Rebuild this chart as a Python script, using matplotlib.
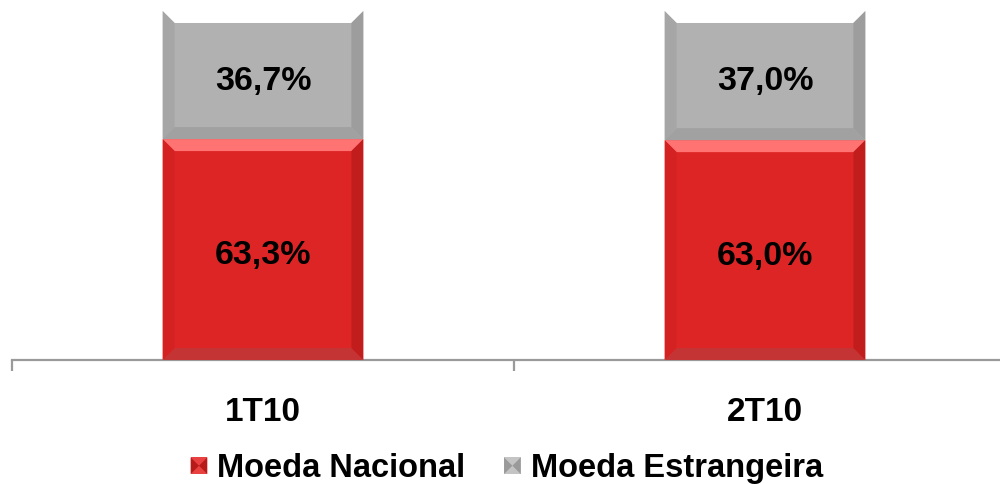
import numpy as np
import matplotlib
matplotlib.use("Agg")
import matplotlib.pyplot as plt
import matplotlib.transforms as mtransforms
from matplotlib.patches import Polygon, Rectangle
from matplotlib.legend_handler import HandlerBase

plt.rcParams['font.family'] = ['Liberation Sans', 'DejaVu Sans']

categories = ['1T10', '2T10']
nacional = [63.3, 63.0]
estrangeira = [36.7, 37.0]
series_names = ['Moeda Nacional', 'Moeda Estrangeira']

# face, top, bottom, left, right
red_cols = ['#DE2526', '#FF7373', '#C43434', '#D42222', '#C21D1D']
gray_cols = ['#B1B1B1', '#FFFFFF', '#A1A1A1', '#A6A6A6', '#9D9D9D']

W, H = 1000, 485
fig = plt.figure(figsize=(W / 100, H / 100), dpi=100)
ax = fig.add_axes([12 / W, (H - 361) / H, 1004 / W, 349 / H])

x = np.arange(len(categories))
b1 = ax.bar(x, nacional, width=0.4, color=red_cols[0], zorder=2)
b2 = ax.bar(x, estrangeira, width=0.4, bottom=nacional, color=gray_cols[0], zorder=2)

ax.set_xlim(-0.5, 1.5)
ax.set_ylim(0, 100)

# bevel edges, size in pixels converted to data units
bev = 12
dx = bev * 2.0 / 1004
dy = bev * 100.0 / 349


def bevel(rect, cols):
    x0, y0 = rect.get_x(), rect.get_y()
    x1, y1 = x0 + rect.get_width(), y0 + rect.get_height()
    top = [(x0, y1), (x1, y1), (x1 - dx, y1 - dy), (x0 + dx, y1 - dy)]
    bot = [(x0, y0), (x1, y0), (x1 - dx, y0 + dy), (x0 + dx, y0 + dy)]
    left = [(x0, y0), (x0 + dx, y0 + dy), (x0 + dx, y1 - dy), (x0, y1)]
    right = [(x1, y0), (x1 - dx, y0 + dy), (x1 - dx, y1 - dy), (x1, y1)]
    for pts, c in zip([top, bot, left, right], cols[1:]):
        ax.add_patch(Polygon(pts, closed=True, facecolor=c, edgecolor='none', zorder=3))


for r in b1:
    bevel(r, red_cols)
for r in b2:
    bevel(r, gray_cols)

lbl_tr = mtransforms.offset_copy(ax.transData, fig=fig, x=0, y=-5, units='dots')
for i in range(len(categories)):
    ax.text(x[i], nacional[i] / 2, f"{nacional[i]:.1f}%".replace('.', ','), transform=lbl_tr,
            ha='center', va='center', fontsize=24.5, fontweight='bold', zorder=4)
    ax.text(x[i], nacional[i] + estrangeira[i] / 2, f"{estrangeira[i]:.1f}%".replace('.', ','),
            transform=lbl_tr, ha='center', va='center', fontsize=24.5, fontweight='bold', zorder=4)

for s in ['top', 'right', 'left']:
    ax.spines[s].set_visible(False)
ax.spines['bottom'].set_color('#9A9A9A')
ax.spines['bottom'].set_linewidth(1.6)
ax.set_yticks([])
ax.set_xticks([-0.5, 0.5, 1.5])
ax.set_xticklabels([])
ax.tick_params(axis='x', which='major', direction='out', length=8, width=1.6, color='#9A9A9A')
ax.set_xticks(x, minor=True)
ax.set_xticklabels(categories, minor=True, fontsize=24, fontweight='bold')
ax.tick_params(axis='x', which='minor', length=0, pad=26)


class BevelHandler(HandlerBase):
    def __init__(self, cols):
        super().__init__()
        self.cols = cols

    def create_artists(self, legend, orig_handle, xd, yd, width, height, fontsize, trans):
        s = 12
        x0, y0 = -xd + width - s, -yd + (height - s) / 2 - 1
        cx, cy = x0 + s / 2, y0 + s / 2
        c = self.cols
        arts = [Rectangle((x0, y0), s, s, facecolor=c[1], edgecolor='none', transform=trans),
                Polygon([(x0, y0), (cx, cy), (x0, y0 + s)], facecolor=c[3], edgecolor='none', transform=trans),
                Polygon([(x0 + s, y0), (cx, cy), (x0 + s, y0 + s)], facecolor=c[4], edgecolor='none', transform=trans)]
        return arts


leg = fig.legend([b1, b2], series_names, loc='lower center', bbox_to_anchor=(0.506, -0.058),
                 ncol=2, frameon=False, handlelength=0.55, handleheight=0.7, handletextpad=0.3,
                 columnspacing=1.15, prop={'size': 23.5, 'weight': 'bold'},
                 handler_map={b1: BevelHandler(['#DE2526', '#E8413F', '#DE2526', '#B81A1A', '#B81A1A']),
                              b2: BevelHandler(['#B1B1B1', '#C4C4C4', '#B1B1B1', '#9A9A9A', '#9A9A9A'])})

fig.savefig('out.png', dpi=100)
